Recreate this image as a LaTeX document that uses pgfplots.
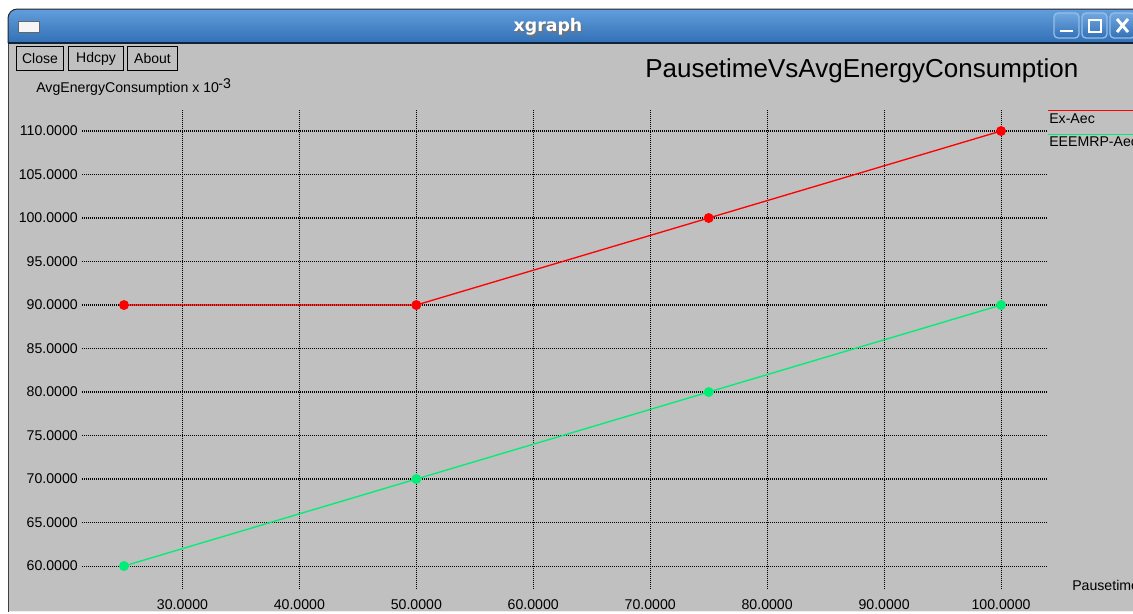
\documentclass[border=0pt]{standalone}
\usepackage{pgfplots}
\pgfplotsset{compat=1.18}
\usepackage{fontspec}
\setmainfont{Liberation Sans}
\newfontfamily\dejab{DejaVu Sans}

\definecolor{wingray}{RGB}{192,192,192}
\definecolor{ltop}{RGB}{98,158,220}
\definecolor{lbot}{RGB}{50,112,182}
\definecolor{btnedge}{RGB}{150,190,232}
\definecolor{exred}{RGB}{255,0,0}
\definecolor{eegreen}{RGB}{0,238,118}

\pgfplotstableread{
x y
25 90
50 90
75 100
100 110
}\exaec
\pgfplotstableread{
x y
25 60
50 70
75 80
100 90
}\eeemrp

\begin{document}
\begin{tikzpicture}
\useasboundingbox (0,0) rectangle (849.75pt,-460.5pt);
\begin{scope}[x=0.75pt,y=-0.75pt]
  % window background
  \fill[white] (0,0) rectangle (1133,614);
  \fill[wingray] (9,40) rectangle (1140,611);
  \draw[white!85!gray, line width=0.75pt] (9,611) -- (1140,611);
  \draw[black!75, line width=1.2pt] (8.5,30) -- (8.5,612);
  % title bar
  \shade[top color=ltop, bottom color=lbot] (8,43) [rounded corners=7pt]-- (8,9) -- (1145,9) [sharp corners]-- (1145,43) -- cycle;
  \draw[black!85, line width=0.75pt] (8,43) [rounded corners=7pt]-- (8,9) -- (1145,9);
  \draw[black!70!lbot, line width=1pt] (8,43) -- (1145,43);
  % left icon
  \draw[black!60, fill=white!92!gray, line width=0.75pt] (18,21) rectangle (39,32);
  % title
  \node[black!55, font=\dejab\bfseries\fontsize{13}{15}\selectfont] at (549.5,28.5) {xgraph};
  \node[white, font=\dejab\bfseries\fontsize{13}{15}\selectfont] at (548,27) {xgraph};
  % window buttons
  \foreach \bx in {1054,1082,1110} {
    \draw[btnedge, line width=1pt, rounded corners=3pt, top color=ltop!90!white, bottom color=lbot] (\bx,13) rectangle ++(25,25);
  }
  \draw[white, line width=2pt] (1060,31) -- (1073,31);
  \draw[white, line width=1.2pt] (1089,20) rectangle (1101,32);
  \draw[white, line width=2.2pt] (1089,20) -- (1101,20);
  \draw[white, line width=2.2pt] (1117,19) -- (1128,32) (1128,19) -- (1117,32);
  % buttons
  \begin{scope}[font=\fontsize{10.5}{12}\selectfont]
    \draw[black, line width=0.9pt] (16.5,46.5) rectangle (63.5,70.5);
    \node at (40,58.5) {Close};
    \draw[black, line width=0.9pt] (68.5,46.5) rectangle (123.5,70.5);
    \node at (96,58.5) {Hdcpy};
    \draw[black, line width=0.9pt] (127.5,46.5) rectangle (177.5,70.5);
    \node at (152.5,58.5) {About};
  \end{scope}
  % labels
  \node[anchor=base west, inner sep=0pt, font=\fontsize{10.6}{12}\selectfont] at (36,92.5) {AvgEnergyConsumption x 10\kern-0.5pt\raisebox{0.55ex}{-3}};
  \node[anchor=base west, inner sep=0pt, font=\fontsize{19.5}{22}\selectfont] at (645,77) {PausetimeVsAvgEnergyConsumption};
  \node[anchor=base west, inner sep=0pt, font=\fontsize{10.6}{12}\selectfont] at (1072,590.5) {Pausetime};
  % legend
  \draw[exred, line width=1pt] (1048,110.3) -- (1140,110.3);
  \node[anchor=base west, inner sep=0pt, font=\fontsize{10.6}{12}\selectfont] at (1049,123.3) {Ex-Aec};
  \draw[eegreen, line width=1pt] (1048,134.7) -- (1140,134.7);
  \node[anchor=base west, inner sep=0pt, font=\fontsize{10.6}{12}\selectfont] at (1049,146.7) {EEEMRP-Aec};
\end{scope}

\begin{axis}[
  at={(61.5pt,-441.75pt)}, anchor=south west,
  scale only axis, width=723.75pt, height=360pt,
  xmin=21.41, xmax=103.93, ymin=57.36, ymax=112.53,
  axis lines=left, axis line style={draw=none,-},
  major tick length=0pt, tick style={draw=none},
  xtick={30,40,...,100}, ytick={60,65,...,110},
  grid=major,
  grid style={black, line width=0.8pt, dash pattern=on 0.75pt off 0.75pt},
  ticklabel style={font=\fontsize{10.6}{12}\selectfont, inner sep=0pt},
  xticklabel style={anchor=base, yshift=-15pt},
  yticklabel style={anchor=east, xshift=-3pt},
  /pgf/number format/.cd, fixed, fixed zerofill, precision=4, 1000 sep={}, assume math mode=true,
]
\addplot[exred, line width=1pt, mark=*, mark size=3.2pt, mark options={fill=exred, draw=exred}] table[x=x,y=y] {\exaec};
\addplot[eegreen, line width=1pt, mark=*, mark size=3.2pt, mark options={fill=eegreen, draw=eegreen}] table[x=x,y=y] {\eeemrp};
\end{axis}
\end{tikzpicture}
\end{document}
